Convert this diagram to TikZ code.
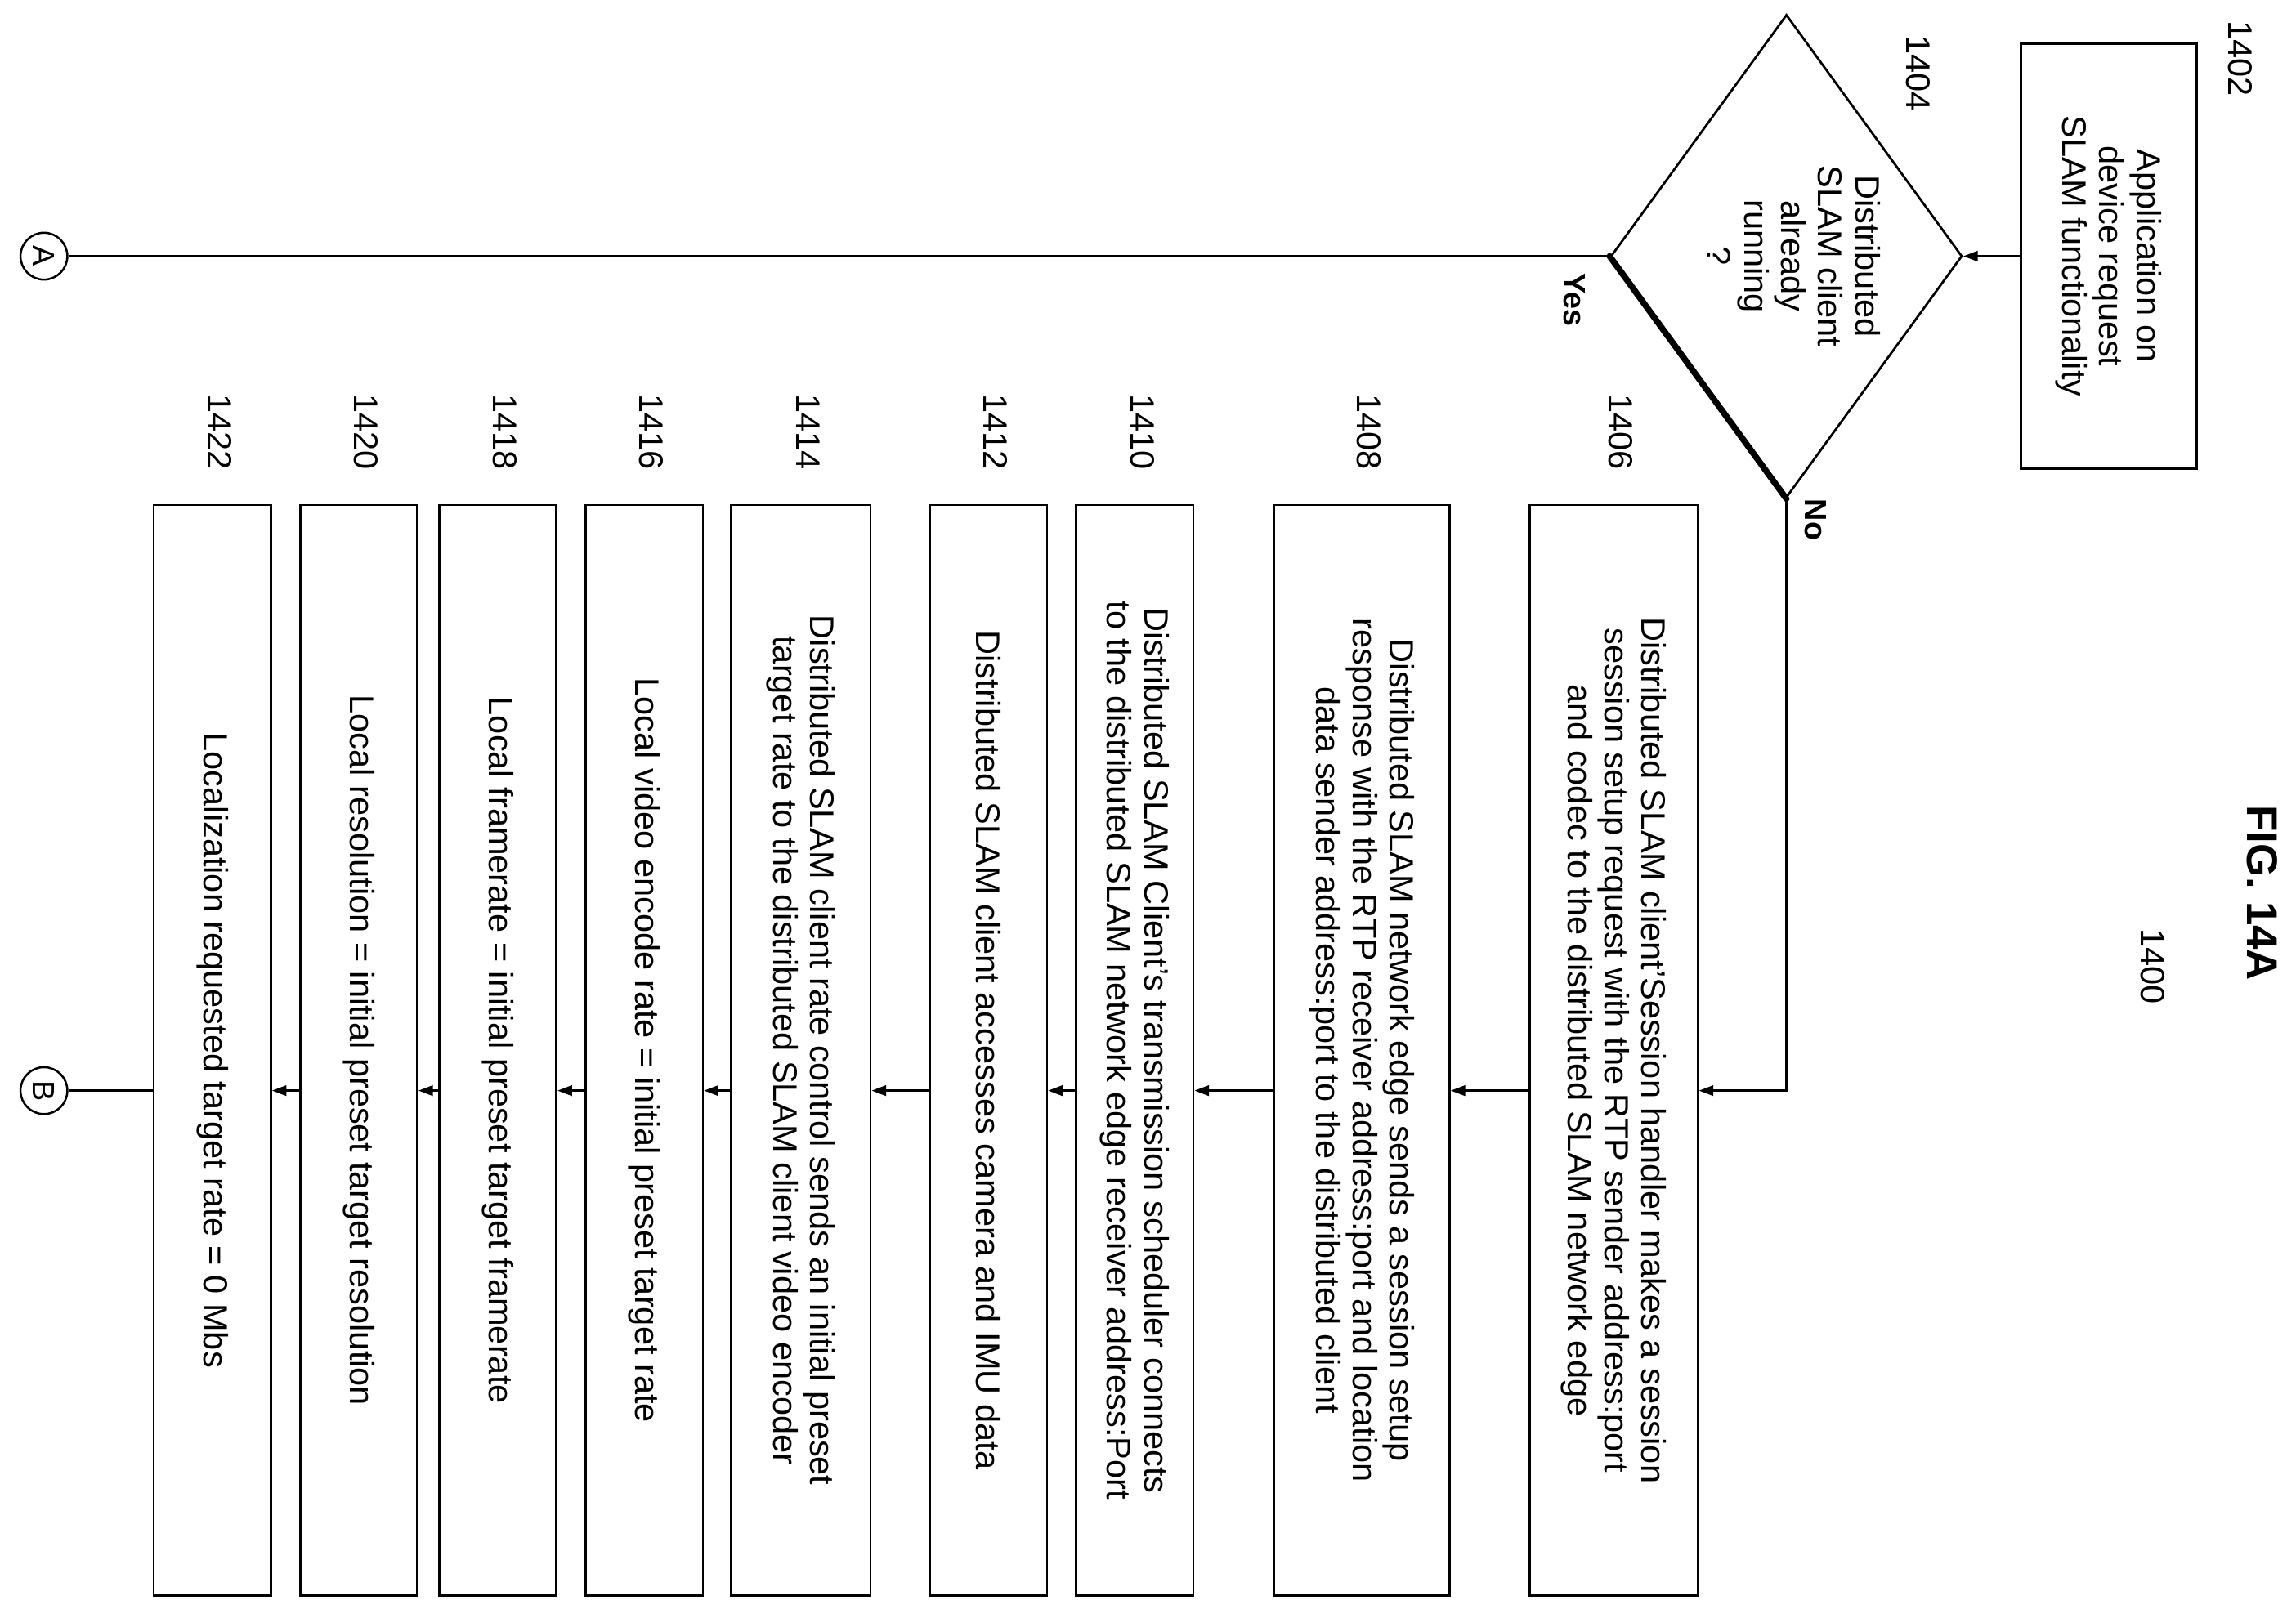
\documentclass[tikz,border=0pt]{standalone}
\usepackage{fontspec}
\setmainfont{Liberation Sans}
\usetikzlibrary{shapes.geometric,calc,arrows.meta}
\begin{document}
\begin{tikzpicture}[x=0.05cm,y=0.05cm,
  box/.style={draw,line width=2.2pt,rotate=-90,align=center,inner sep=0pt,font=\fontsize{33}{36}\selectfont},
  lbl/.style={rotate=-90,font=\fontsize{33}{36}\selectfont},
  arr/.style={line width=2pt,-{Triangle[length=14pt,width=10pt]}},
  circ/.style={draw,circle,line width=2pt,minimum size=1.6cm,inner sep=0pt,rotate=-90,font=\fontsize{30}{32}\selectfont}]
\useasboundingbox (0,0) rectangle (1568,1105);
\node[box,minimum width=290*0.05cm,minimum height=120*0.05cm] (b1402) at (1440,930) {Application on\\device request\\SLAM functionality};
\node[draw,diamond,line width=2.2pt,minimum width=240*0.05cm,minimum height=330*0.05cm,inner sep=0pt] (d) at (1220,930) {};
\node[lbl,align=center] at (1225,930) {Distributed\\SLAM client\\already\\running\\?};
\draw[line width=6pt,line cap=round] (d.west) -- (d.south);
\node[circ] (A) at (30,930) {A};
\node[circ] (B) at (30,360) {B};
\foreach \n/\x/\t/\txt in {
 1406/1102/115/{Distributed SLAM client'Session handler makes a session\\session setup request with the RTP sender address:port\\and codec to the distributed SLAM network edge},
 1408/930/120/{Distributed SLAM network edge sends a session setup\\response with the RTP receiver address:port and location\\data sender address:port to the distributed client},
 1410/775/80/{Distributed SLAM Client's transmission scheduler connects\\to the distributed SLAM network edge receiver address:Port},
 1412/675/80/{Distributed SLAM client accesses camera and IMU data},
 1414/547/95/{Distributed SLAM client rate control sends an initial preset\\target rate to the distributed SLAM client video encoder},
 1416/440/80/{Local video encode rate = initial preset target rate},
 1418/340/80/{Local framerate = initial preset target framerate},
 1420/245/80/{Local resolution = initial preset target resolution},
 1422/145/80/{Localization requested target rate = 0 Mbs}}{
 \node[box,minimum width=745*0.05cm,minimum height=\t*0.05cm] (b\n) at (\x,387.5) {\txt};
 \node[lbl] at (\x+5,810) {\n};
}
\node[lbl] at (1530,1065) {1402};
\node[lbl] at (1310,1055) {1404};
\node[lbl] at (1470,445) {1400};
\node[lbl,font=\fontsize{42}{44}\selectfont\bfseries] at (1545,495) {FIG. 14A};
\node[lbl,font=\fontsize{30}{32}\selectfont\bfseries] at (1075,900) {Yes};
\node[lbl,font=\fontsize{30}{32}\selectfont\bfseries] at (1240,750) {No};
\draw[arr] (b1402.south) -- (d.east);
\draw[line width=2pt] (d.west) -- (A);
\draw[arr] (d.south) |- ($(b1406.north)+(0,-27.5)$);
\foreach \a/\b in {1406/1408,1408/1410,1410/1412,1412/1414,1414/1416,1416/1418,1418/1420,1420/1422}
  \draw[arr] ($(b\a.south)+(0,-27.5)$) -- ($(b\b.north)+(0,-27.5)$);
\draw[line width=2pt] ($(b1422.south)+(0,-27.5)$) -- (B);
\end{tikzpicture}
\end{document}
